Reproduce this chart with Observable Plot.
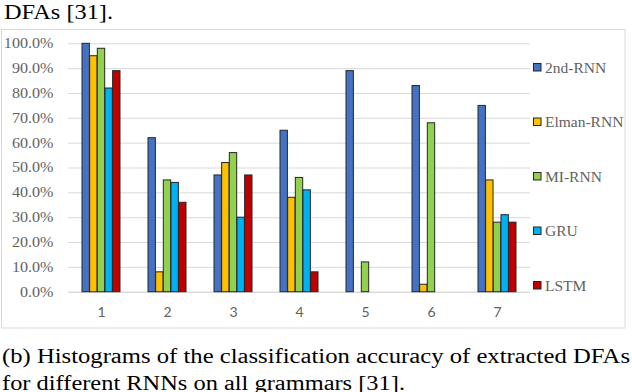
<!DOCTYPE html>
<html>
<head>
<meta charset="utf-8">
<script src="https://cdn.jsdelivr.net/npm/d3@7"></script>
<script src="https://cdn.jsdelivr.net/npm/@observablehq/plot@0.6"></script>
<style>
  html, body { margin: 0; padding: 0; background: #fff; }
  #chart { width: 632px; height: 392px; overflow: hidden; }
</style>
</head>
<body>
<div id="chart"></div>
<script>
// ---- data ----
const groups = ["1", "2", "3", "4", "5", "6", "7"];
const series = ["2nd-RNN", "Elman-RNN", "MI-RNN", "GRU", "LSTM"];
const colors = ["#4472C4", "#FFC000", "#92D050", "#00B0F0", "#C00000"];
const rnn2nd = [100, 62, 47, 65, 89, 83, 75];
const elman  = [95, 8, 52, 38, 0, 3, 45];
const miRnn  = [98, 45, 56, 46, 12, 68, 28];
const gru    = [82, 44, 30, 41, 0, 0, 31];
const lstm   = [89, 36, 47, 8, 0, 0, 28];
const yTicks = [0, 10, 20, 30, 40, 50, 60, 70, 80, 90, 100];
const titleText = "DFAs [31].";
const captionLines = [
  "(b) Histograms of the classification accuracy of extracted DFAs",
  "for different RNNs on all grammars [31]."
];

const seriesValues = [rnn2nd, elman, miRnn, gru, lstm];
const data = series.flatMap((s, i) =>
  groups.map((g, j) => ({ group: g, series: s, value: seriesValues[i][j] / 100 }))
);

// ---- layout ----
const W = 632, H = 392;
const mL = 68, mR = 102, mT = 43.3, mB = 100.3;
const padIn = 0.42, padOut = 0.21;
const bandW = (W - mL - mR) / groups.length * (1 - padIn);
const bw = bandW / series.length;
const serif = "'Liberation Serif', 'Times New Roman', serif";
const gray = "#626262";

const barMarks = series.map((s, i) =>
  Plot.barY(data.filter(d => d.series === s && d.value > 0), {
    x: "group", y: "value",
    fill: colors[i], stroke: "#262626", strokeWidth: 1,
    insetLeft: i * bw, insetRight: (series.length - 1 - i) * bw
  })
);

const plot = Plot.plot({
  width: W, height: H,
  marginTop: mT, marginBottom: mB, marginLeft: mL, marginRight: mR,
  style: { background: "transparent", overflow: "visible" },
  x: { domain: groups, paddingInner: padIn, paddingOuter: padOut, axis: null },
  y: { domain: [0, 1], axis: null },
  marks: [
    Plot.ruleY(yTicks.filter(t => t > 0).map(t => t / 100), { stroke: "#d9d9d9", strokeWidth: 1 }),
    Plot.ruleY([0], { stroke: "#c8c8c8", strokeWidth: 1 }),
    ...barMarks,
    Plot.text(yTicks, {
      y: d => d / 100, text: d => d3.format(".1f")(d) + "%",
      frameAnchor: "left", textAnchor: "end", lineAnchor: "middle", dx: -15,
      fontFamily: serif, fontSize: 14, fill: gray,
      className: "ylab"
    }),
    Plot.text(groups, {
      x: d => d, text: d => d,
      frameAnchor: "bottom", lineAnchor: "middle", dy: 20,
      fontFamily: "Lato, 'Open Sans', sans-serif", fontSize: 14, fill: gray
    })
  ]
});

document.getElementById("chart").appendChild(plot);

const svg = d3.select(plot);

// widen y tick labels slightly (the reference font is horizontally stretched)
svg.selectAll("text").each(function () {
  const t = this.textContent;
  if (/%$/.test(t)) {
    const len = this.getComputedTextLength();
    d3.select(this).attr("textLength", len * 1.15).attr("lengthAdjust", "spacingAndGlyphs");
  }
});

// chart border
svg.insert("rect", ":first-child")
  .attr("x", 1.5).attr("y", 29.5).attr("width", 623.5).attr("height", 298.5)
  .attr("fill", "none").attr("stroke", "#d9d9d9").attr("stroke-width", 1);

// legend
const leg = svg.append("g").attr("text-anchor", "start");
series.forEach((s, i) => {
  const cy = 67.5 + i * 54.5;
  leg.append("rect")
    .attr("x", 533.5).attr("y", cy - 4).attr("width", 7.5).attr("height", 7.5)
    .attr("fill", colors[i]).attr("stroke", "#262626").attr("stroke-width", 1);
  leg.append("text")
    .attr("x", 545).attr("y", cy).attr("dy", "0.35em")
    .attr("text-anchor", "start")
    .style("font-family", serif).style("font-size", "15.5px").attr("fill", gray)
    .text(s);
});

// title fragment and caption
svg.append("text")
  .attr("x", 4).attr("y", 18.5).attr("text-anchor", "start")
  .style("font-family", serif).style("font-size", "21px").attr("fill", "#000")
  .attr("textLength", 109).attr("lengthAdjust", "spacingAndGlyphs")
  .text(titleText);
const capLens = [628, 403];
const capY = [363, 390];
captionLines.forEach((t, i) => {
  svg.append("text")
    .attr("x", 2).attr("y", capY[i]).attr("text-anchor", "start")
    .style("font-family", serif).style("font-size", "20px").attr("fill", "#000")
    .attr("textLength", capLens[i]).attr("lengthAdjust", "spacingAndGlyphs")
    .text(t);
});
</script>
</body>
</html>
